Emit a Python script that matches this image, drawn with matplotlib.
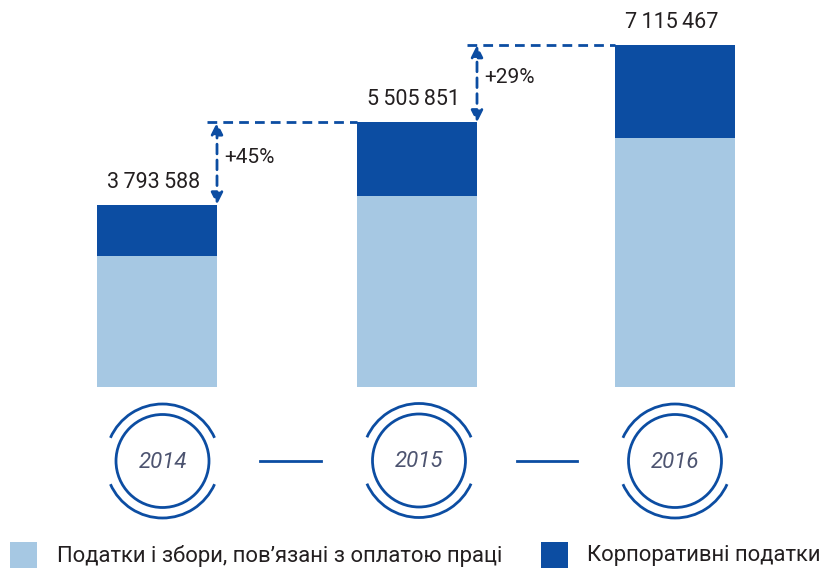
import matplotlib.pyplot as plt
from matplotlib.patches import Arc, Circle, Rectangle

# data
years = ["2014", "2015", "2016"]
totals = [3793588, 5505851, 7115467]
labour_taxes = [2730000, 3970000, 5170000]
corporate_taxes = [t - l for t, l in zip(totals, labour_taxes)]
growth = ["+45%", "+29%"]
legend_labels = ["Податки і збори, пов\u2019язані з оплатою праці", "Корпоративні податки"]

DARK = "#0c4da2"
LIGHT = "#a6c8e3"
TEXT = "#231f20"
YEARTXT = "#4d5470"
FONT = ["Roboto", "DejaVu Sans"]

W, H = 820, 572
fig = plt.figure(figsize=(W / 100, H / 100), dpi=100)

# bar axes: x in pixels, y in values; zero line at pixel 386.5 from top
k = totals[0] / 182.0          # value units per pixel
y0 = 386.5
ax = fig.add_axes([0, 0, 1, 1])
ax.set_xlim(0, W)
ax.set_ylim(-(H - y0) * k, y0 * k)
ax.axis("off")

xs = [157, 417, 675]
bw = 120
ax.bar(xs, labour_taxes, width=bw, color=LIGHT, linewidth=0)
ax.bar(xs, corporate_taxes, bottom=labour_taxes, width=bw, color=DARK, linewidth=0)

for x, t in zip(xs, totals):
    lab = "{:,}".format(t).replace(",", "\u2009")
    ax.text(x - 3, t + 12 * k, lab, ha="center", va="bottom", fontsize=15.5,
            color=TEXT, family=FONT)

# growth markers
for i in range(2):
    xa = xs[i] + bw / 2
    ax.plot([xa - 10, xs[i + 1] - bw / 2], [totals[i + 1]] * 2, color=DARK,
            lw=2, linestyle=(0, (3.5, 2.2)))
    ax.annotate("", xy=(xa, totals[i + 1]), xytext=(xa, totals[i]),
                arrowprops=dict(arrowstyle="<|-|>,head_length=0.7,head_width=0.35",
                                color=DARK, lw=2, linestyle=(0, (3.5, 2.2)),
                                shrinkA=0, shrinkB=0))
    ax.text(xa + 7, (totals[i] + totals[i + 1]) / 2 + 6 * k, growth[i],
            ha="left", va="center", fontsize=15, color=TEXT, family=FONT)

# decoration axes in pixel coords
ov = fig.add_axes([0, 0, 1, 1])
ov.set_xlim(0, W)
ov.set_ylim(H, 0)
ov.axis("off")

centers = [(162.5, 461), (419, 460.5), (675, 461)]
for (cx, cy), yr in zip(centers, years):
    ov.add_patch(Circle((cx, cy), 46.5, fill=False, ec=DARK, lw=2))
    ov.add_patch(Arc((cx, cy), 114, 114, theta1=24, theta2=156, ec=DARK, lw=2))
    ov.add_patch(Arc((cx, cy), 114, 114, theta1=204, theta2=336, ec=DARK, lw=2))
    ov.text(cx, cy + 1, yr, ha="center", va="center", fontsize=16,
            style="italic", color=YEARTXT, family=FONT)

for xa, xb in [(260, 321), (517, 577)]:
    ov.plot([xa, xb], [461, 461], color=DARK, lw=2)

# legend
for (sx, tx), col, lab in zip([(10, 57), (541, 587)], [LIGHT, DARK], legend_labels):
    ov.add_patch(Rectangle((sx, 542), 27, 26, color=col, lw=0))
    ov.text(tx, 556, lab, ha="left", va="center", fontsize=15.8,
            color=TEXT, family=FONT)

fig.savefig("out.png", dpi=100)
